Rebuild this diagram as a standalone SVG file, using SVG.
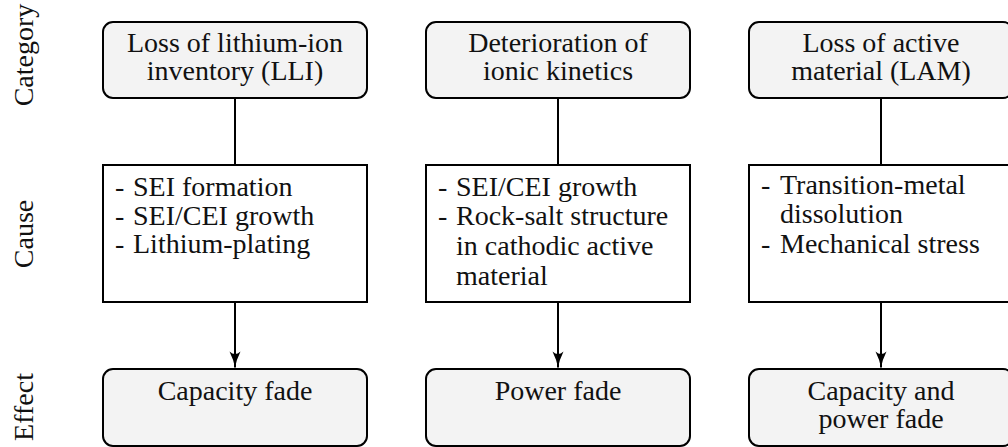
<svg xmlns="http://www.w3.org/2000/svg" width="1008" height="447" viewBox="0 0 1008 447">
  <style>
    text { font-family: "Liberation Serif", "Times New Roman", serif; font-size: 28px; fill: #111; }
    .c { text-anchor: middle; }
    .head { fill: #f3f3f3; stroke: #000; stroke-width: 2; }
    .cause { fill: #fff; stroke: #000; stroke-width: 2; }
    .link { stroke: #000; stroke-width: 2; fill: none; }
  </style>
  <defs>
    <!-- curved-back arrow tip, drawn along +x with the point at the origin -->
    <marker id="tip" viewBox="-17 -6 18 12" refX="0" refY="0" markerWidth="18" markerHeight="12" markerUnits="userSpaceOnUse" orient="auto">
      <path d="M0,0 Q-8,-1.5 -16,-5.5 Q-11,0 -16,5.5 Q-8,1.5 0,0 Z" fill="#000"/>
    </marker>
  </defs>

  <!-- row labels -->
  <g id="row-labels">
    <text class="c" transform="translate(33,55) rotate(-90)">Category</text>
    <text class="c" transform="translate(33,234) rotate(-90)">Cause</text>
    <text class="c" transform="translate(33,407) rotate(-90)">Effect</text>
  </g>

  <!-- connectors -->
  <g id="connectors">
    <line class="link" x1="235" y1="98" x2="235" y2="165"/>
    <line class="link" x1="558" y1="98" x2="558" y2="165"/>
    <line class="link" x1="881" y1="98" x2="881" y2="165"/>
    <path class="link" d="M235,302 L235,367.5" marker-end="url(#tip)"/>
    <path class="link" d="M558,302 L558,367.5" marker-end="url(#tip)"/>
    <path class="link" d="M881,302 L881,367.5" marker-end="url(#tip)"/>
  </g>

  <!-- column 1 -->
  <g id="cat-lli">
    <rect class="head" x="103" y="22" width="264" height="76" rx="10"/>
    <text class="c" x="235" y="51.5">Loss of lithium-ion</text>
    <text class="c" x="235" y="80">inventory (LLI)</text>
  </g>
  <g id="cause-lli">
    <rect class="cause" x="103" y="165" width="264" height="137"/>
    <text x="115" y="196">-</text><text x="133" y="196">SEI formation</text>
    <text x="115" y="224.5">-</text><text x="133" y="224.5">SEI/CEI growth</text>
    <text x="115" y="253">-</text><text x="133" y="253">Lithium-plating</text>
  </g>
  <g id="effect-lli">
    <rect class="head" x="103" y="369" width="264" height="77" rx="10"/>
    <text class="c" x="235" y="399.5">Capacity fade</text>
  </g>

  <!-- column 2 -->
  <g id="cat-kinetics">
    <rect class="head" x="426" y="22" width="264" height="76" rx="10"/>
    <text class="c" x="558" y="51.5">Deterioration of</text>
    <text class="c" x="558" y="80">ionic kinetics</text>
  </g>
  <g id="cause-kinetics">
    <rect class="cause" x="426" y="165" width="264" height="137"/>
    <text x="438" y="196">-</text><text x="456" y="196">SEI/CEI growth</text>
    <text x="438" y="225">-</text><text x="456" y="225">Rock-salt structure</text>
    <text x="456" y="255">in cathodic active</text>
    <text x="456" y="284.5">material</text>
  </g>
  <g id="effect-kinetics">
    <rect class="head" x="426" y="369" width="264" height="77" rx="10"/>
    <text class="c" x="558" y="399.5">Power fade</text>
  </g>

  <!-- column 3 -->
  <g id="cat-lam">
    <rect class="head" x="749" y="22" width="264" height="76" rx="10"/>
    <text class="c" x="881" y="51.5">Loss of active</text>
    <text class="c" x="881" y="80">material (LAM)</text>
  </g>
  <g id="cause-lam">
    <rect class="cause" x="749" y="165" width="264" height="137"/>
    <text x="761" y="194">-</text><text x="780" y="194">Transition-metal</text>
    <text x="780" y="223">dissolution</text>
    <text x="761" y="252.5">-</text><text x="780" y="252.5">Mechanical stress</text>
  </g>
  <g id="effect-lam">
    <rect class="head" x="749" y="369" width="264" height="77" rx="10"/>
    <text class="c" x="881" y="399.5">Capacity and</text>
    <text class="c" x="881" y="428">power fade</text>
  </g>
</svg>
